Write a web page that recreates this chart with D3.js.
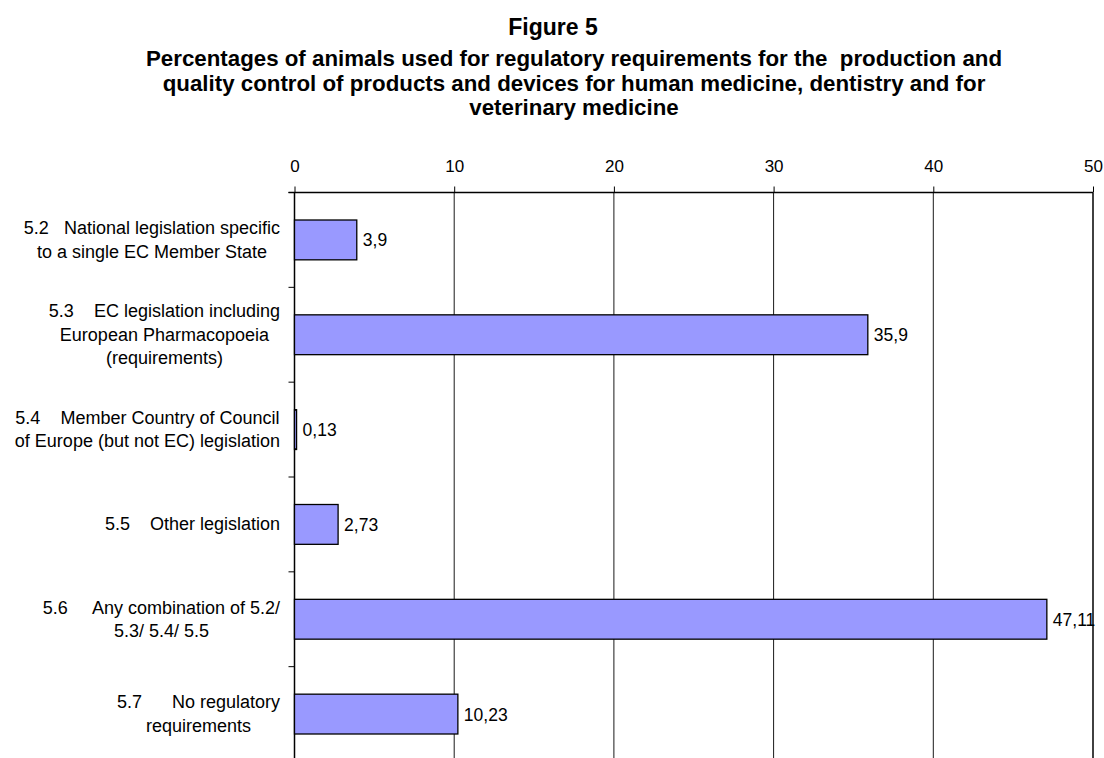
<!DOCTYPE html>
<html>
<head>
<meta charset="utf-8">
<script src="https://cdn.jsdelivr.net/npm/d3@7"></script>
<style>
  body { margin: 0; background: #fff; }
  text { font-family: "Liberation Sans", Arial, sans-serif; fill: #000; }
</style>
</head>
<body>
<svg id="chart" width="1104" height="758"></svg>
<script>
// Category codes and their wrapped label lines
const categories = ["5.2", "5.3", "5.4", "5.5", "5.6", "5.7"];
const categoryLines = [
  ["5.2   National legislation specific", "to a single EC Member State"],
  ["5.3    EC legislation including", "European Pharmacopoeia", "(requirements)"],
  ["5.4    Member Country of Council", "of Europe (but not EC) legislation"],
  ["5.5    Other legislation"],
  ["5.6     Any combination of 5.2/", "5.3/ 5.4/ 5.5"],
  ["5.7      No regulatory", "requirements"]
];
// Percentage of animals per category
const values = [3.9, 35.9, 0.13, 2.73, 47.11, 10.23];
const xTicks = [0, 10, 20, 30, 40, 50];

const titleText = "Figure 5";
const subtitleLines = [
  "Percentages of animals used for regulatory requirements for the  production and",
  "quality control of products and devices for human medicine, dentistry and for",
  "veterinary medicine"
];

const svg = d3.select("#chart");

const plot = { left: 294.5, right: 1093, top: 192.5, bottom: 761.5 };

const x = d3.scaleLinear().domain([0, 50]).range([plot.left, plot.right]);
const y = d3.scaleBand()
  .domain(categories)
  .range([plot.top, plot.bottom])
  .paddingInner(0.58)
  .paddingOuter(0.29);
const step = y.step();

// Title block
svg.append("text")
  .attr("x", 553).attr("y", 35)
  .attr("text-anchor", "middle")
  .style("font-size", "23px").style("font-weight", "bold")
  .text(titleText);
svg.append("g").selectAll("text")
  .data(subtitleLines)
  .join("text")
  .attr("x", 574)
  .attr("y", (d, i) => 66 + i * 24.5)
  .attr("text-anchor", "middle")
  .attr("xml:space", "preserve")
  .style("font-size", "22.3px").style("font-weight", "bold")
  .style("white-space", "pre")
  .text(d => d);

// Vertical gridlines
svg.append("g").selectAll("line")
  .data(xTicks.filter(t => t > 0 && t < 50))
  .join("line")
  .attr("x1", d => x(d)).attr("x2", d => x(d))
  .attr("y1", plot.top).attr("y2", plot.bottom)
  .attr("stroke", "#1a1a1a").attr("stroke-width", 1);

// Right edge of the plot area
svg.append("line")
  .attr("x1", x(50)).attr("x2", x(50))
  .attr("y1", plot.top).attr("y2", plot.bottom)
  .attr("stroke", "#111").attr("stroke-width", 1.6);

// Top value axis
const xAxis = d3.axisTop(x).tickValues(xTicks).tickSize(6).tickPadding(15).tickFormat(d3.format("d"));
const gx = svg.append("g").attr("transform", `translate(0,${plot.top})`).call(xAxis);
gx.select(".domain").attr("stroke", "#000").attr("stroke-width", 1.3)
  .attr("d", `M${plot.left - 6},0H${plot.right}`);
gx.selectAll(".tick line").attr("stroke", "#000");
gx.selectAll(".tick text")
  .style("font-size", "17px")
  .style("font-family", "'Liberation Sans', Arial, sans-serif")
  .attr("fill", "#000");

// Category axis with ticks on band boundaries
const boundaries = d3.range(categories.length + 1).map(i => plot.top + i * step);
svg.append("line")
  .attr("x1", plot.left).attr("x2", plot.left)
  .attr("y1", plot.top).attr("y2", plot.bottom)
  .attr("stroke", "#000").attr("stroke-width", 1.5);
svg.append("g").selectAll("line")
  .data(boundaries)
  .join("line")
  .attr("x1", plot.left - 6).attr("x2", plot.left)
  .attr("y1", d => d).attr("y2", d => d)
  .attr("stroke", "#000").attr("stroke-width", 1);

// Bars
svg.append("g").selectAll("rect")
  .data(values)
  .join("rect")
  .attr("x", x(0))
  .attr("y", (d, i) => y(categories[i]))
  .attr("width", d => x(d) - x(0))
  .attr("height", y.bandwidth())
  .attr("fill", "#9999ff")
  .attr("stroke", "#000")
  .attr("stroke-width", 1.3);

// Value labels
svg.append("g").selectAll("text")
  .data(values)
  .join("text")
  .attr("x", d => x(d) + 6)
  .attr("y", (d, i) => y(categories[i]) + y.bandwidth() / 2 + 6.5)
  .style("font-size", "17.5px")
  .text(d => String(d).replace(".", ","));

// Category labels: lines centred on each other, widest line right-aligned to the axis
const labelRight = 280;
const lineGap = 23.5;
categoryLines.forEach((lines, i) => {
  const cy = y(categories[i]) + y.bandwidth() / 2;
  const g = svg.append("g");
  const texts = g.selectAll("text")
    .data(lines)
    .join("text")
    .attr("xml:space", "preserve")
    .style("white-space", "pre")
    .style("font-size", "18px")
    .attr("text-anchor", "middle")
    .attr("y", (d, j) => cy - (lines.length - 1) / 2 * lineGap + j * lineGap + 6)
    .text(d => d);
  let maxW = 0;
  texts.each(function () { maxW = Math.max(maxW, this.getComputedTextLength()); });
  texts.attr("x", labelRight - maxW / 2);
});
</script>
</body>
</html>
